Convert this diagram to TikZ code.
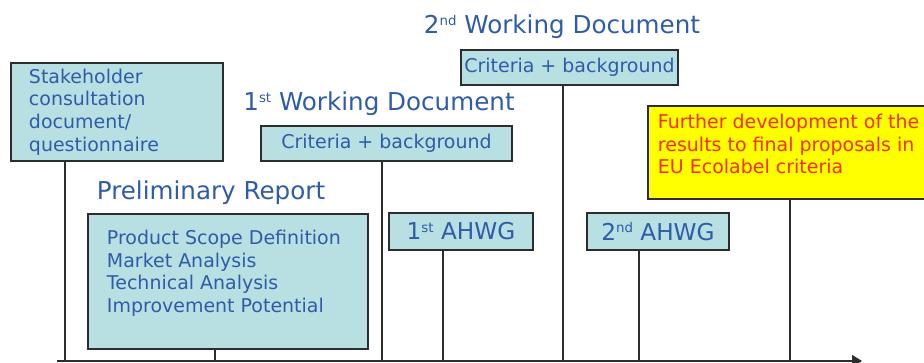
\documentclass[tikz,border=0pt]{standalone}
\usepackage{fontspec}
\setmainfont{DejaVu Sans}
\usetikzlibrary{arrows.meta}

\definecolor{boxfill}{RGB}{184,223,226}
\definecolor{boxline}{RGB}{45,45,45}
\definecolor{txtblue}{RGB}{46,92,168}
\definecolor{hiyellow}{RGB}{255,255,0}
\definecolor{hired}{RGB}{250,45,0}

% small raised ordinal (st, nd)
\newcommand{\ordsup}[1]{\raisebox{0.62ex}{\fontsize{9.5pt}{10pt}\selectfont #1}}

\tikzset{
  box/.style={draw=boxline, line width=1.4pt, fill=boxfill, text=txtblue, inner sep=0pt,
    font=\fontsize{13.5pt}{16.2pt}\selectfont},
  head/.style={text=txtblue, inner sep=0pt, font=\fontsize{17.5pt}{20pt}\selectfont},
  link/.style={draw=boxline, line width=1.3pt},
}

\begin{document}
\begin{tikzpicture}
  \useasboundingbox (0,0) rectangle (23.1,9.05);

  % time axis and where each step meets it
  \coordinate (t0) at (1.425,0.025);
  \coordinate (t1) at (21.55,0.025);
  \coordinate (tstake) at (1.625,0.025);
  \coordinate (tprelim) at (5.375,0.025);
  \coordinate (twdone) at (9.55,0.025);
  \coordinate (tagone) at (11.075,0.025);
  \coordinate (twdtwo) at (14.075,0.025);
  \coordinate (tagtwo) at (15.975,0.025);
  \coordinate (tfinal) at (19.75,0.025);

  \draw [line width=1.1pt, draw=boxline, -{Triangle[length=0.25cm,width=0.3cm]}] (t0) -- (t1);

  % stakeholder consultation
  \node [box, anchor=north west, minimum width=5.3cm, minimum height=2.45cm,
         text width=4.4cm, align=left] (stake) at (0.25,7.5)
        {Stakeholder\\consultation\\document/\\questionnaire};
  \draw [link] (stake.south -| tstake) -- (tstake);

  % preliminary report
  \node [head] (prelimhead) at (5.275,4.225) {Preliminary Report};
  \node [box, anchor=north west, inner xsep=0.475cm, inner ysep=0.4cm] (prelim) at (2.175,3.725)
        {\parbox[t][2.575cm][t]{6.05cm}{Product Scope Definition\\Market Analysis\\Technical Analysis\\Improvement Potential}};
  \draw [link] (prelim.south -| tprelim) -- (tprelim);

  % 1st working document
  \node [head] (wdonehead) at (9.475,6.45) {1\ordsup{st} Working Document};
  \node [box, minimum width=6.275cm, minimum height=0.875cm] (wdone) at (9.6625,5.4625)
        {Criteria + background};
  \draw [link] (wdone.south -| twdone) -- (twdone);

  % 1st AHWG
  \node [box, minimum width=3.6cm, minimum height=0.925cm,
         font=\fontsize{16.5pt}{19pt}\selectfont] (agone) at (11.525,3.2625)
        {1\ordsup{st} AHWG};
  \draw [link] (agone.south -| tagone) -- (tagone);

  % 2nd working document
  \node [head] (wdtwohead) at (14.05,8.375) {2\ordsup{nd} Working Document};
  \node [box, minimum width=5.425cm, minimum height=0.875cm] (wdtwo) at (14.2375,7.3625)
        {Criteria + background};
  \draw [link] (wdtwo.south -| twdtwo) -- (twdtwo);

  % 2nd AHWG
  \node [box, minimum width=3.55cm, minimum height=0.925cm,
         font=\fontsize{16.5pt}{19pt}\selectfont] (agtwo) at (16.45,3.2625)
        {2\ordsup{nd} AHWG};
  \draw [link] (agtwo.south -| tagtwo) -- (tagtwo);

  % final proposals
  \node [box, fill=hiyellow, text=hired, anchor=north west, inner xsep=0.25cm,
         inner ysep=0.2cm] (final) at (16.175,6.425)
        {\parbox[t][1.925cm][t]{7cm}{Further development of the\\results to final proposals in\\EU Ecolabel criteria}};
  \draw [link] (final.south -| tfinal) -- (tfinal);
\end{tikzpicture}
\end{document}
